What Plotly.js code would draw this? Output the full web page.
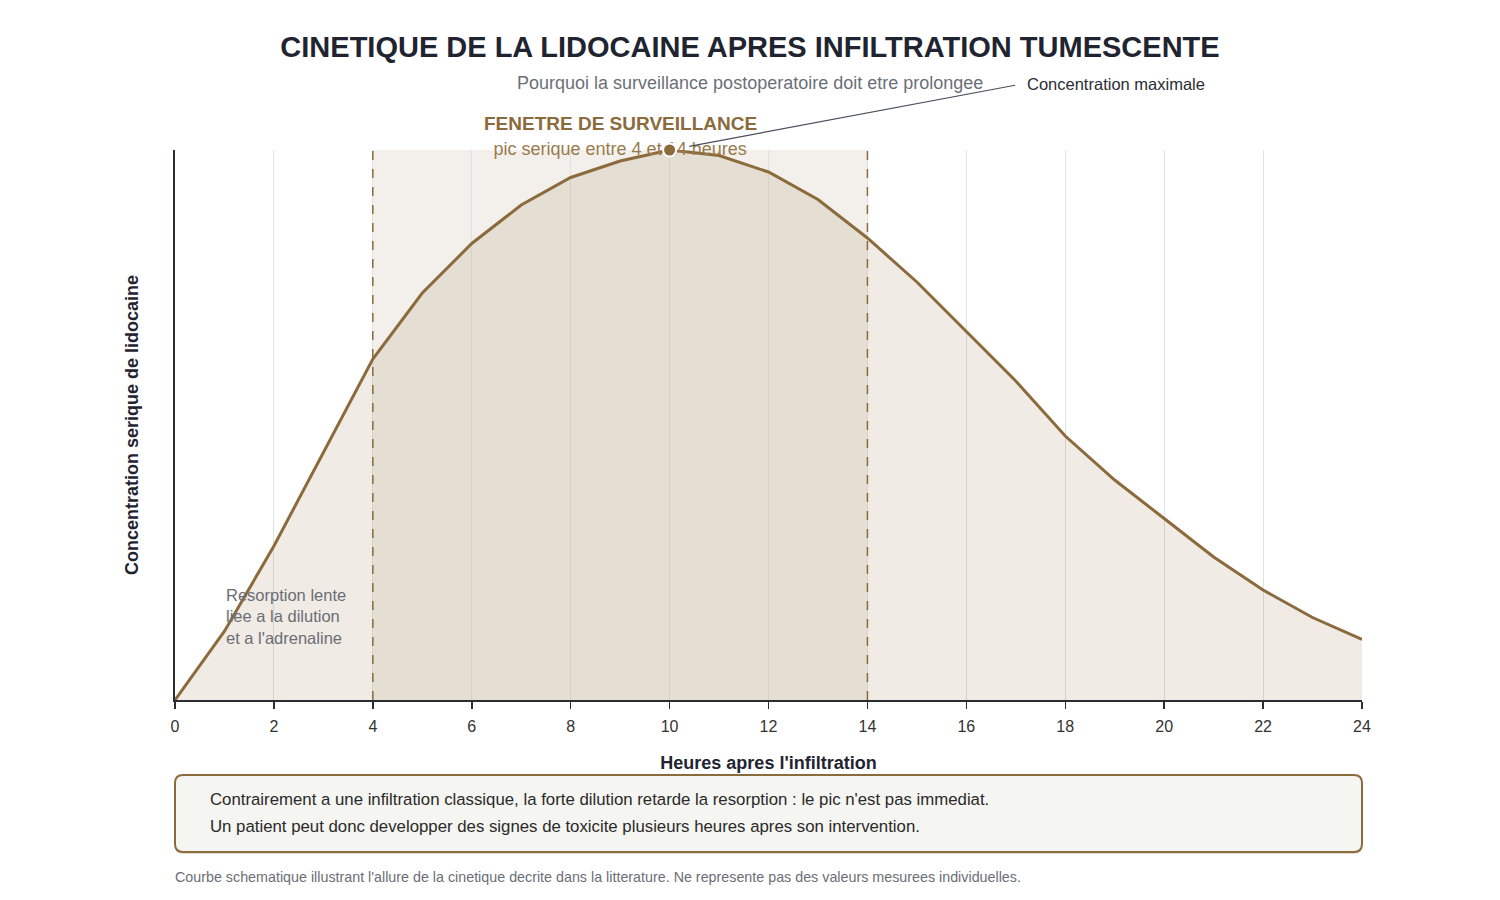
<!DOCTYPE html>
<html>
<head>
<meta charset="utf-8">
<script src="https://cdn.plot.ly/plotly-3.0.1.min.js"></script>
<style>
  html, body { margin: 0; padding: 0; background: #ffffff; }
  #chart { width: 1500px; height: 900px; }
</style>
</head>
<body>
<div id="chart"></div>
<script>
// Schematic serum lidocaine curve after tumescent infiltration (relative scale, peak = 100)
const hours = [0, 1, 2, 3, 4, 5, 6, 7, 8, 9, 10, 11, 12, 13, 14, 15, 16, 17, 18, 19, 20, 21, 22, 23, 24];
const concentration = [0, 12.5, 28, 45, 62, 74, 83, 90, 95, 98, 100, 99, 96, 91, 84, 76, 67, 58, 48, 40, 33, 26, 20, 15, 11];
const xTicks = [0, 2, 4, 6, 8, 10, 12, 14, 16, 18, 20, 22, 24];
const windowStart = 4;
const windowEnd = 14;

const noteLines = [
  "Contrairement a une infiltration classique, la forte dilution retarde la resorption : le pic n'est pas immediat.",
  "Un patient peut donc developper des signes de toxicite plusieurs heures apres son intervention."
];

const brown = "#8b6a3c";
const font = "Liberation Sans, Arial, sans-serif";

const peakIdx = concentration.indexOf(Math.max(...concentration));
const peakHour = hours[peakIdx];
const peakValue = concentration[peakIdx];
const windowMid = (windowStart + windowEnd) / 2;

const curve = {
  x: hours,
  y: concentration,
  type: "scatter",
  mode: "lines",
  line: { color: brown, width: 3 },
  fill: "tozeroy",
  fillcolor: "rgba(139,106,62,0.135)",
  cliponaxis: false,
  hoverinfo: "skip"
};

// window caption sits in the trace layer so the peak marker is drawn over it
const windowCaption = {
  x: [windowMid],
  y: [100],
  type: "scatter",
  mode: "text",
  text: ["pic serique entre " + windowStart + " et " + windowEnd + " heures"],
  textposition: "middle center",
  textfont: { family: font, size: 18, color: "#9a7a4c" },
  cliponaxis: false,
  hoverinfo: "skip"
};

const peak = {
  x: [peakHour],
  y: [peakValue],
  type: "scatter",
  mode: "markers",
  marker: { color: brown, size: 13, line: { color: "#ffffff", width: 2 } },
  cliponaxis: false,
  hoverinfo: "skip"
};

// rounded box below the axis, in paper units (plot area is 1187 x 550 px)
function roundedBox(x0, x1, y0, y1, rpx) {
  const rx = rpx / 1187, ry = rpx / 550;
  return `M ${x0 + rx} ${y1} L ${x1 - rx} ${y1} Q ${x1} ${y1} ${x1} ${y1 - ry} ` +
    `L ${x1} ${y0 + ry} Q ${x1} ${y0} ${x1 - rx} ${y0} ` +
    `L ${x0 + rx} ${y0} Q ${x0} ${y0} ${x0} ${y0 + ry} ` +
    `L ${x0} ${y1 - ry} Q ${x0} ${y1} ${x0 + rx} ${y1} Z`;
}
const boxTop = -75 / 550, boxBottom = -152 / 550;
const shadowShift = 2 / 550;

const layout = {
  width: 1500,
  height: 900,
  paper_bgcolor: "#ffffff",
  plot_bgcolor: "#ffffff",
  showlegend: false,
  margin: { l: 175, r: 138, t: 150, b: 200 },
  font: { family: font, color: "#333333" },
  title: {
    text: "<b>CINETIQUE DE LA LIDOCAINE APRES INFILTRATION TUMESCENTE</b>",
    font: { family: font, size: 29, color: "#1f2430" },
    x: 0.5, xref: "container", xanchor: "center",
    y: 1 - 47 / 900, yref: "container", yanchor: "middle"
  },
  xaxis: {
    range: [0, 24],
    tickvals: xTicks,
    ticktext: xTicks.map(String),
    ticks: "outside",
    ticklen: 7,
    tickwidth: 1.5,
    tickcolor: "#2b2d35",
    ticklabelstandoff: 4,
    tickfont: { family: font, size: 16, color: "#333333" },
    showline: true,
    linecolor: "#2b2d35",
    linewidth: 2,
    showgrid: true,
    gridcolor: "#e2e2e2",
    gridwidth: 1,
    zeroline: false,
    fixedrange: true,
    title: {
      text: "<b>Heures apres l'infiltration</b>",
      font: { family: font, size: 18, color: "#1f2430" },
      standoff: 22
    }
  },
  yaxis: {
    range: [0, 100],
    showticklabels: false,
    ticks: "",
    showline: true,
    linecolor: "#2b2d35",
    linewidth: 2,
    showgrid: false,
    zeroline: false,
    fixedrange: true,
    title: {
      text: "<b>Concentration serique de lidocaine</b>",
      font: { family: font, size: 18, color: "#1f2430" },
      standoff: 30
    }
  },
  shapes: [
    {
      type: "rect", xref: "x", yref: "paper",
      x0: windowStart, x1: windowEnd, y0: 0, y1: 1,
      fillcolor: "rgba(139,106,62,0.1)", line: { width: 0 }, layer: "below"
    },
    {
      type: "line", xref: "x", yref: "paper",
      x0: windowStart, x1: windowStart, y0: 0, y1: 1,
      line: { color: brown, width: 1.5, dash: "dash" }
    },
    {
      type: "line", xref: "x", yref: "paper",
      x0: windowEnd, x1: windowEnd, y0: 0, y1: 1,
      line: { color: brown, width: 1.5, dash: "dash" }
    },
    {
      type: "path", xref: "paper", yref: "paper",
      path: roundedBox(0, 1, boxBottom - shadowShift, boxTop - shadowShift, 8),
      fillcolor: "rgba(120,110,95,0.25)",
      line: { width: 0 }
    },
    {
      type: "path", xref: "paper", yref: "paper",
      path: roundedBox(0, 1, boxBottom, boxTop, 8),
      fillcolor: "#f5f5f1",
      line: { color: brown, width: 2 }
    }
  ],
  annotations: [
    {
      text: "Pourquoi la surveillance postoperatoire doit etre prolongee",
      xref: "paper", yref: "paper", x: 0.484, y: (700 - 83) / 550,
      xanchor: "center", yanchor: "middle", showarrow: false,
      font: { family: font, size: 18, color: "#6b6f78" }
    },
    {
      text: "<b>FENETRE DE SURVEILLANCE</b>",
      xref: "x", yref: "paper", x: windowMid, y: (700 - 123) / 550,
      xanchor: "center", yanchor: "middle", showarrow: false,
      font: { family: font, size: 19, color: brown }
    },
    {
      // pointer line from the peak towards its label
      text: "",
      xref: "x", yref: "y", x: peakHour, y: peakValue,
      ax: 347, ay: -65,
      showarrow: true, arrowhead: 0, arrowwidth: 1.2, arrowcolor: "#4a4f5c",
      standoff: 20
    },
    {
      text: "Concentration maximale",
      xref: "x", yref: "y", x: peakHour, y: peakValue,
      xshift: 355, yshift: 66,
      xanchor: "left", yanchor: "middle", showarrow: false,
      font: { family: font, size: 16.5, color: "#2a2d35" }
    },
    {
      text: "Resorption lente<br>liee a la dilution<br>et a l'adrenaline",
      xref: "x", yref: "y", x: 1, y: 15.1,
      xanchor: "left", yanchor: "middle", align: "left", showarrow: false,
      font: { family: font, size: 16.5, color: "#6b6e75" }
    },
    {
      text: noteLines[0],
      xref: "paper", yref: "paper", x: 33 / 1187, y: (700 - 799) / 550,
      xanchor: "left", yanchor: "middle", showarrow: false,
      font: { family: font, size: 16.8, color: "#2a2a2a" }
    },
    {
      text: noteLines[1],
      xref: "paper", yref: "paper", x: 33 / 1187, y: (700 - 826) / 550,
      xanchor: "left", yanchor: "middle", showarrow: false,
      font: { family: font, size: 16.8, color: "#2a2a2a" }
    },
    {
      text: "Courbe schematique illustrant l'allure de la cinetique decrite dans la litterature. Ne represente pas des valeurs mesurees individuelles.",
      xref: "paper", yref: "paper", x: -2 / 1187, y: (700 - 877) / 550,
      xanchor: "left", yanchor: "middle", showarrow: false,
      font: { family: font, size: 14.3, color: "#6b6e75" }
    }
  ]
};

Plotly.newPlot("chart", [curve, windowCaption, peak], layout, { displayModeBar: false, staticPlot: true });
</script>
</body>
</html>
